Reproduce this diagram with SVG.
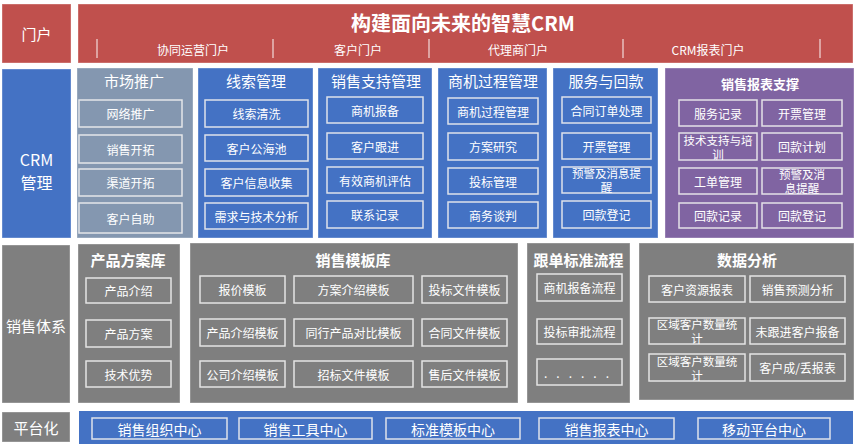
<svg xmlns="http://www.w3.org/2000/svg" width="860" height="446" viewBox="0 0 860 446">
<style>
text{fill:#fff;font-family:"Noto Sans CJK SC","Noto Sans",sans-serif;text-anchor:middle;dominant-baseline:central}
.t11{font-size:11.5px}.t12{font-size:12px}.t13{font-size:13px}.t14{font-size:14px}.t15{font-size:15px}.t16{font-size:16px}.t20{font-size:20px}
.b{font-weight:bold}
.red{fill:#C0504D}.blue{fill:#4472C4}.slate{fill:#8497B0}.purple{fill:#8064A2}.gray{fill:#7F7F7F}
.box{stroke:#ffffff;stroke-opacity:0.35;stroke-width:1}
.item{stroke:#EEEEEE;stroke-opacity:0.9;stroke-width:1.5}
.sep{stroke:#ffffff;stroke-opacity:0.8;stroke-width:1.2}
</style>
<rect width="860" height="446" fill="#ffffff"/>

<!-- Row 1: 门户 -->
<g id="row-portal-label"><rect class="red box" x="2" y="4" width="69" height="59"/><text class="t15" x="36.5" y="33">门户</text></g>
<g id="portal">
<rect class="red box" x="78" y="4" width="775" height="59"/>
<text class="t20 b" x="463" y="22">构建面向未来的智慧CRM</text>
<line class="sep" x1="97" y1="39" x2="97" y2="58"/>
<line class="sep" x1="273" y1="39" x2="273" y2="58"/>
<line class="sep" x1="429" y1="39" x2="429" y2="58"/>
<line class="sep" x1="623" y1="39" x2="623" y2="58"/>
<line class="sep" x1="820" y1="39" x2="820" y2="58"/>
<text class="t12" x="193" y="49">协同运营门户</text>
<text class="t12" x="358" y="49">客户门户</text>
<text class="t12" x="518" y="49">代理商门户</text>
<text class="t12" x="708" y="49">CRM报表门户</text>
</g>

<!-- Row 2: CRM管理 -->
<g id="row-crm-label"><rect class="blue box" x="2" y="69" width="69" height="169"/><text class="t16" x="36.5" y="159">CRM<tspan x="36.5" dy="23">管理</tspan></text></g>

<g id="market">
<rect class="slate box" x="77" y="68" width="116" height="170"/>
<text class="t15" x="134" y="80">市场推广</text>
<rect class="slate item" x="79" y="100" width="103" height="27"/><text class="t12" x="130.5" y="113.5">网络推广</text>
<rect class="slate item" x="79" y="135" width="103" height="28"/><text class="t12" x="130.5" y="149">销售开拓</text>
<rect class="slate item" x="79" y="169" width="103" height="27"/><text class="t12" x="130.5" y="182.5">渠道开拓</text>
<rect class="slate item" x="79" y="203" width="103" height="30"/><text class="t12" x="130.5" y="218">客户自助</text>
</g>

<g id="leads">
<rect class="blue box" x="198" y="68" width="115" height="170"/>
<text class="t15" x="256" y="80">线索管理</text>
<rect class="blue item" x="205" y="100" width="103" height="27"/><text class="t12" x="256.5" y="113.5">线索清洗</text>
<rect class="blue item" x="205" y="135" width="103" height="26"/><text class="t12" x="256.5" y="148">客户公海池</text>
<rect class="blue item" x="205" y="169" width="103" height="27"/><text class="t12" x="256.5" y="182.5">客户信息收集</text>
<rect class="blue item" x="205" y="203" width="103" height="26"/><text class="t12" x="256.5" y="216">需求与技术分析</text>
</g>

<g id="sales-support">
<rect class="blue box" x="318" y="68" width="114" height="170"/>
<text class="t15" x="376" y="80">销售支持管理</text>
<rect class="blue item" x="327" y="97" width="96" height="26"/><text class="t12" x="375" y="110">商机报备</text>
<rect class="blue item" x="327" y="133" width="96" height="26"/><text class="t12" x="375" y="146">客户跟进</text>
<rect class="blue item" x="327" y="167" width="96" height="26"/><text class="t12" x="375" y="180">有效商机评估</text>
<rect class="blue item" x="327" y="201" width="96" height="27"/><text class="t12" x="375" y="214.5">联系记录</text>
</g>

<g id="opportunity">
<rect class="blue box" x="438" y="68" width="109" height="170"/>
<text class="t15" x="493" y="80">商机过程管理</text>
<rect class="blue item" x="448" y="98" width="90" height="26"/><text class="t12" x="493" y="111">商机过程管理</text>
<rect class="blue item" x="448" y="133" width="90" height="27"/><text class="t12" x="493" y="146.5">方案研究</text>
<rect class="blue item" x="448" y="168" width="90" height="26"/><text class="t12" x="493" y="181">投标管理</text>
<rect class="blue item" x="448" y="202" width="90" height="26"/><text class="t12" x="493" y="215">商务谈判</text>
</g>

<g id="service">
<rect class="blue box" x="553" y="68" width="105" height="170"/>
<text class="t15" x="606" y="80">服务与回款</text>
<rect class="blue item" x="562" y="97" width="89" height="26"/><text class="t12" x="606.5" y="110">合同订单处理</text>
<rect class="blue item" x="562" y="133" width="89" height="26"/><text class="t12" x="606.5" y="146">开票管理</text>
<rect class="blue item" x="562" y="167" width="89" height="26"/><text class="t11" x="606.5" y="173">预警及消息提<tspan x="606.5" dy="14">醒</tspan></text>
<rect class="blue item" x="562" y="201" width="89" height="27"/><text class="t12" x="606.5" y="214.5">回款登记</text>
</g>

<g id="report-support">
<rect class="purple box" x="665" y="68" width="189" height="170"/>
<text class="t13 b" x="760" y="83">销售报表支撑</text>
<rect class="purple item" x="679" y="100" width="78" height="26"/><text class="t12" x="718" y="113">服务记录</text>
<rect class="purple item" x="762" y="100" width="80" height="26"/><text class="t12" x="802" y="113">开票管理</text>
<rect class="purple item" x="679" y="133" width="78" height="27"/><text class="t11" x="718" y="139.5">技术支持与培<tspan x="718" dy="14">训</tspan></text>
<rect class="purple item" x="762" y="133" width="80" height="27"/><text class="t12" x="802" y="146.5">回款计划</text>
<rect class="purple item" x="679" y="168" width="78" height="26"/><text class="t12" x="718" y="181">工单管理</text>
<rect class="purple item" x="762" y="168" width="80" height="26"/><text class="t11" x="802" y="174">预警及消<tspan x="802" dy="14">息提醒</tspan></text>
<rect class="purple item" x="679" y="203" width="78" height="25"/><text class="t12" x="718" y="215.5">回款记录</text>
<rect class="purple item" x="762" y="203" width="80" height="25"/><text class="t12" x="802" y="215.5">回款登记</text>
</g>

<!-- Row 3: 销售体系 -->
<g id="row-sales-label"><rect class="gray box" x="2" y="245" width="68" height="158"/><text class="t15" x="36" y="325">销售体系</text></g>

<g id="product-lib">
<rect class="gray box" x="78" y="244" width="102" height="159"/>
<text class="t15 b" x="128" y="259">产品方案库</text>
<rect class="gray item" x="86" y="278" width="85" height="25"/><text class="t12" x="128.5" y="290.5">产品介绍</text>
<rect class="gray item" x="86" y="320" width="85" height="27"/><text class="t12" x="128.5" y="333.5">产品方案</text>
<rect class="gray item" x="86" y="361" width="85" height="26"/><text class="t12" x="128.5" y="374">技术优势</text>
</g>

<g id="template-lib">
<rect class="gray box" x="190" y="243" width="328" height="160"/>
<text class="t15 b" x="353" y="259">销售模板库</text>
<rect class="gray item" x="200" y="276" width="85" height="27"/><text class="t12" x="242.5" y="289.5">报价模板</text>
<rect class="gray item" x="294" y="276" width="119" height="27"/><text class="t12" x="353.5" y="289.5">方案介绍模板</text>
<rect class="gray item" x="422" y="276" width="85" height="27"/><text class="t12" x="464.5" y="289.5">投标文件模板</text>
<rect class="gray item" x="200" y="319" width="85" height="27"/><text class="t12" x="242.5" y="332.5">产品介绍模板</text>
<rect class="gray item" x="294" y="319" width="119" height="27"/><text class="t12" x="353.5" y="332.5">同行产品对比模板</text>
<rect class="gray item" x="422" y="319" width="85" height="27"/><text class="t12" x="464.5" y="332.5">合同文件模板</text>
<rect class="gray item" x="200" y="361" width="85" height="26"/><text class="t12" x="242.5" y="374">公司介绍模板</text>
<rect class="gray item" x="294" y="361" width="119" height="26"/><text class="t12" x="353.5" y="374">招标文件模板</text>
<rect class="gray item" x="422" y="361" width="85" height="26"/><text class="t12" x="464.5" y="374">售后文件模板</text>
</g>

<g id="process">
<rect class="gray box" x="527" y="243" width="103" height="160"/>
<text class="t15 b" x="578.5" y="259">跟单标准流程</text>
<rect class="gray item" x="537" y="274" width="85" height="27"/><text class="t12" x="579.5" y="287.5">商机报备流程</text>
<rect class="gray item" x="537" y="319" width="85" height="25"/><text class="t12" x="579.5" y="331.5">投标审批流程</text>
<rect class="gray item" x="537" y="359" width="85" height="26"/><text class="t12" x="581" y="372" style="letter-spacing:9px">......</text>
</g>

<g id="data-analysis">
<rect class="gray box" x="639" y="243" width="215" height="157"/>
<text class="t15 b" x="747" y="259">数据分析</text>
<rect class="gray item" x="649" y="276" width="96" height="26"/><text class="t12" x="697" y="289">客户资源报表</text>
<rect class="gray item" x="750" y="276" width="95" height="26"/><text class="t12" x="797.5" y="289">销售预测分析</text>
<rect class="gray item" x="649" y="318" width="96" height="26"/><text class="t11" x="697" y="324">区域客户数量统<tspan x="697" dy="14">计</tspan></text>
<rect class="gray item" x="750" y="318" width="95" height="26"/><text class="t12" x="797.5" y="331">未跟进客户报备</text>
<rect class="gray item" x="649" y="354" width="96" height="27"/><text class="t11" x="697" y="360.5">区域客户数量统<tspan x="697" dy="14">计</tspan></text>
<rect class="gray item" x="750" y="354" width="95" height="27"/><text class="t12" x="797.5" y="367.5">客户成/丢报表</text>
</g>

<!-- Row 4: 平台化 -->
<g id="row-platform-label"><rect class="gray box" x="2" y="412" width="68" height="30"/><text class="t15" x="36" y="427">平台化</text></g>
<g id="platform">
<rect class="blue" x="79" y="411" width="774" height="33"/>
<rect class="blue item" x="92" y="418" width="135" height="21"/><text class="t14" x="159.5" y="428.5">销售组织中心</text>
<rect class="blue item" x="239" y="418" width="133" height="21"/><text class="t14" x="305.5" y="428.5">销售工具中心</text>
<rect class="blue item" x="386" y="418" width="134" height="21"/><text class="t14" x="453" y="428.5">标准模板中心</text>
<rect class="blue item" x="539" y="418" width="135" height="21"/><text class="t14" x="606.5" y="428.5">销售报表中心</text>
<rect class="blue item" x="698" y="418" width="132" height="21"/><text class="t14" x="764" y="428.5">移动平台中心</text>
</g>
<g id="connectors"></g>
</svg>
